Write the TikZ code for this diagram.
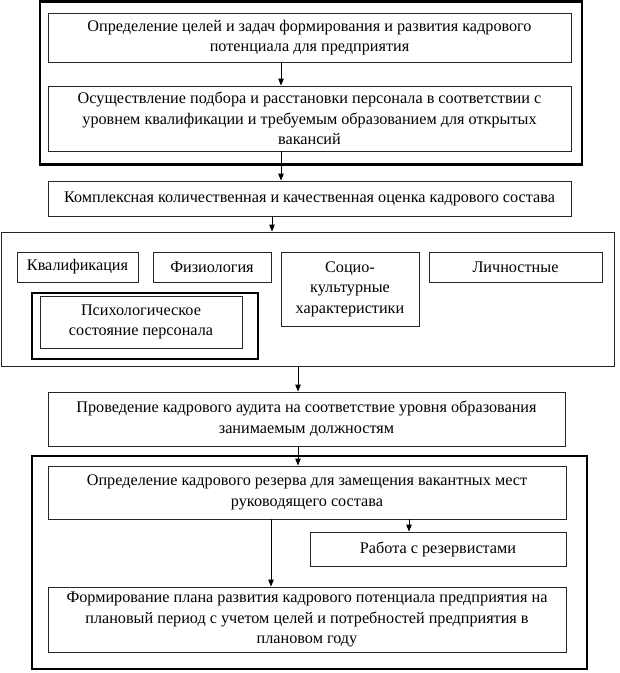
\documentclass[tikz,border=0pt]{standalone}
\usepackage{fontspec}
\setmainfont{Liberation Serif}
\usetikzlibrary{arrows.meta}
\begin{document}
\begin{tikzpicture}[x=1pt,y=-1pt,
  thinbox/.style={draw=black!85,line width=0.9pt,rectangle,inner sep=0pt,align=center,
    font=\fontsize{16.2}{20.5}\selectfont},
  thickbox/.style={draw=black,line width=2.6pt,rectangle,inner sep=0pt},
  arr/.style={draw=black,line width=0.9pt,-{Triangle[length=7pt,width=5.5pt]}}]
\useasboundingbox (0,0) rectangle (620,673);
\node[thickbox,minimum width=542pt,minimum height=163pt] (g1) at (311,83) {};
\node[thinbox,minimum width=523pt,minimum height=49pt] (b1) at (309.5,37.5)
  {Определение целей и задач формирования и развития кадрового\\потенциала для предприятия};
\node[thinbox,minimum width=523pt,minimum height=65pt] (b2) at (309.5,118.5)
  {Осуществление подбора и расстановки персонала в соответствии с\\уровнем квалификации и требуемым образованием для открытых\\вакансий};
\node[thinbox,minimum width=523pt,minimum height=35pt] (b3) at (309.5,198.5)
  {Комплексная количественная и качественная оценка кадрового состава};
\node[thinbox,minimum width=613pt,minimum height=134pt] (g2) at (307.5,299) {};
\node[thinbox,minimum width=121pt,minimum height=30pt] (q1) at (77.5,267) {Квалификация};
\node[thinbox,minimum width=118pt,minimum height=30pt] (q2) at (212,267) {Физиология};
\node[thinbox,minimum width=138pt,minimum height=74pt] (q3) at (350,289) {Социо-\\культурные\\характеристики};
\node[thinbox,minimum width=173pt,minimum height=30pt] (q4) at (515.5,267) {Личностные};
\node[thickbox,line width=2pt,minimum width=226pt,minimum height=66pt] (p0) at (145,326) {};
\node[thinbox,minimum width=202pt,minimum height=52pt] (p1) at (141,322) {Психологическое\\состояние персонала};
\node[thinbox,minimum width=517pt,minimum height=54pt] (b4) at (306.5,419)
  {Проведение кадрового аудита на соответствие уровня образования\\занимаемым должностям};
\node[thickbox,minimum width=555pt,minimum height=213pt] (g3) at (309.5,562.5) {};
\node[thinbox,minimum width=518pt,minimum height=53pt] (b5) at (307,492.5)
  {Определение кадрового резерва для замещения вакантных мест\\руководящего состава};
\node[thinbox,minimum width=256pt,minimum height=34pt] (b6) at (438,549) {Работа с резервистами};
\node[thinbox,minimum width=518pt,minimum height=65pt] (b7) at (307,619.5)
  {Формирование плана развития кадрового потенциала предприятия на\\плановый период с учетом целей и потребностей предприятия в\\плановом году};
\coordinate (xa) at (281,0);
\coordinate (xb) at (272,0);
\coordinate (xc) at (298,0);
\coordinate (xd) at (271,0);
\coordinate (xe) at (409,0);
\draw[arr] (b1.south -| xa) -- (b2.north -| xa);
\draw[arr] (b2.south -| xa) -- (b3.north -| xa);
\draw[arr] (b3.south -| xb) -- (g2.north -| xb);
\draw[arr] (g2.south -| xc) -- (b4.north -| xc);
\draw[arr] (b4.south -| xc) -- (b5.north -| xc);
\draw[arr] (b5.south -| xd) -- (b7.north -| xd);
\draw[arr] (b5.south -| xe) -- (b6.north -| xe);
\end{tikzpicture}
\end{document}
